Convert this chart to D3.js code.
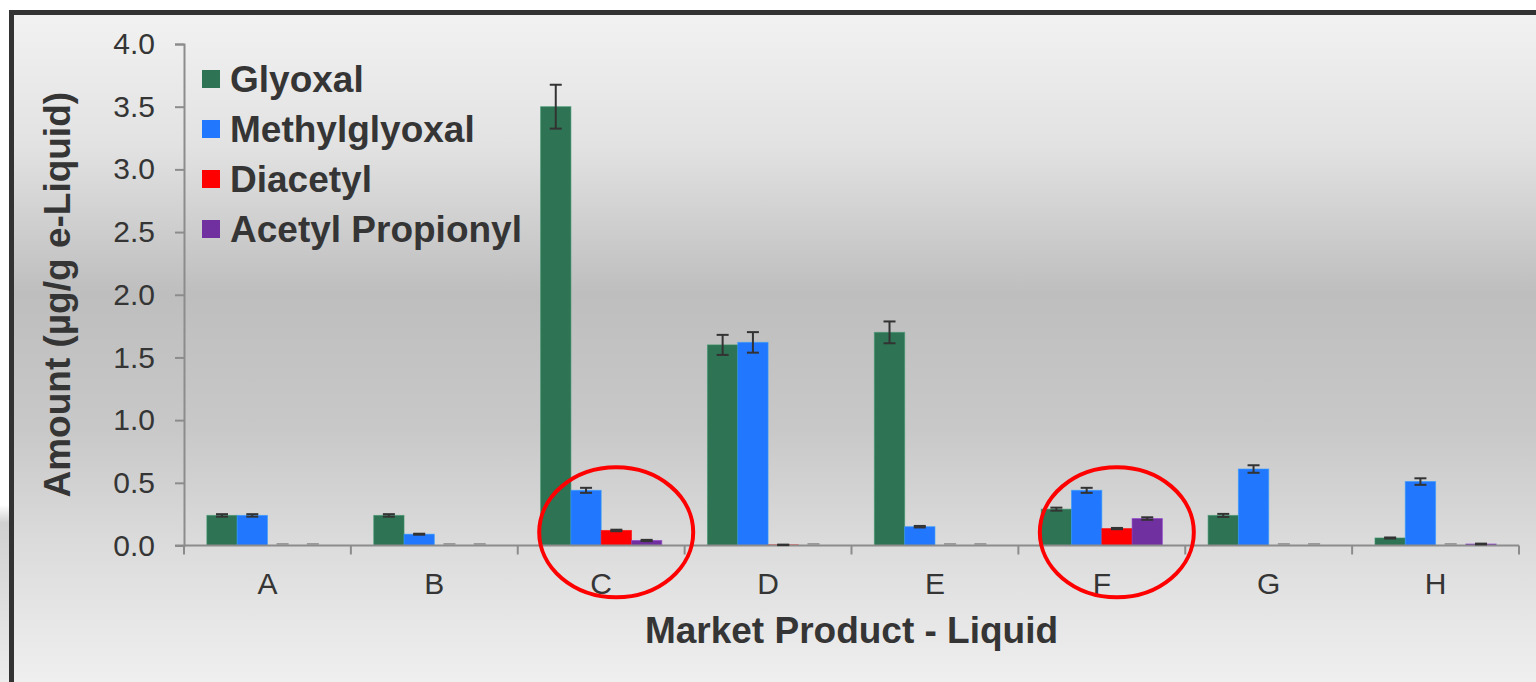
<!DOCTYPE html>
<html>
<head>
<meta charset="utf-8">
<script src="https://cdn.jsdelivr.net/npm/d3@7"></script>
<style>
  html, body { margin: 0; padding: 0; background: #ffffff; }
  svg { display: block; font-family: "Liberation Sans", Arial, Helvetica, sans-serif; }
</style>
</head>
<body>
<svg id="chart" width="1536" height="682"></svg>
<script>
// Market product liquids
const categories = ["A", "B", "C", "D", "E", "F", "G", "H"];

// Series names (legend order)
const seriesNames = ["Glyoxal", "Methylglyoxal", "Diacetyl", "Acetyl Propionyl"];

// Amounts, µg/g e-liquid
const glyoxal         = [0.24, 0.24, 3.50, 1.60, 1.70, 0.29, 0.24, 0.06];
const methylglyoxal   = [0.24, 0.09, 0.44, 1.62, 0.15, 0.44, 0.61, 0.51];
const diacetyl        = [0.00, 0.00, 0.12, 0.005, 0.00, 0.135, 0.00, 0.00];
const acetylPropionyl = [0.00, 0.00, 0.04, 0.00, 0.00, 0.215, 0.00, 0.012];

// Error bar half-widths
const glyoxalErr         = [0.010, 0.010, 0.175, 0.080, 0.087, 0.012, 0.012, 0.004];
const methylglyoxalErr   = [0.010, 0.004, 0.020, 0.082, 0.006, 0.020, 0.030, 0.026];
const diacetylErr        = [0.000, 0.000, 0.006, 0.002, 0.000, 0.005, 0.000, 0.000];
const acetylPropionylErr = [0.000, 0.000, 0.005, 0.000, 0.000, 0.010, 0.000, 0.003];

// Y axis tick values
const yTicks = [0, 0.5, 1.0, 1.5, 2.0, 2.5, 3.0, 3.5, 4.0];

// Highlighted products
const highlighted = ["C", "F"];

const seriesValues = [glyoxal, methylglyoxal, diacetyl, acetylPropionyl];
const seriesErrors = [glyoxalErr, methylglyoxalErr, diacetylErr, acetylPropionylErr];
const colors = ["#2e7353", "#2277ff", "#ff0000", "#7030a0"];

const svg = d3.select("#chart");
const W = 1536, H = 682;

// ---- background panel with soft vertical gradient ----
const defs = svg.append("defs");
const bg = defs.append("linearGradient").attr("id", "bgGrad")
  .attr("x1", 0).attr("y1", 0).attr("x2", 0).attr("y2", 1);
bg.append("stop").attr("offset", "0%").attr("stop-color", "#f2f2f2");
bg.append("stop").attr("offset", "20%").attr("stop-color", "#e2e2e2");
bg.append("stop").attr("offset", "42%").attr("stop-color", "#bebebe");
bg.append("stop").attr("offset", "62%").attr("stop-color", "#c8c8c8");
bg.append("stop").attr("offset", "80%").attr("stop-color", "#dcdcdc");
bg.append("stop").attr("offset", "100%").attr("stop-color", "#efefef");

const sh = defs.append("linearGradient").attr("id", "shadowGrad")
  .attr("x1", 0).attr("y1", 0).attr("x2", 0).attr("y2", 1);
sh.append("stop").attr("offset", "0%").attr("stop-color", "#ffffff");
sh.append("stop").attr("offset", "10%").attr("stop-color", "#d0d0d0");
sh.append("stop").attr("offset", "100%").attr("stop-color", "#ececec");

svg.append("rect").attr("x", 0).attr("y", 0).attr("width", W).attr("height", H).attr("fill", "#ffffff");
svg.append("rect").attr("x", 0).attr("y", 505).attr("width", 10).attr("height", H - 505).attr("fill", "url(#shadowGrad)");
svg.append("rect").attr("x", 12).attr("y", 12).attr("width", W - 12).attr("height", H - 12).attr("fill", "url(#bgGrad)");

// frame: top and left edges
svg.append("path")
  .attr("d", `M11.5,${H} L11.5,12.5 L${W},12.5`)
  .attr("fill", "none").attr("stroke", "#333333").attr("stroke-width", 5);

// ---- scales ----
const margin = { left: 184, right: 1519, top: 44, bottom: 545.5 };
const x0 = d3.scaleBand().domain(categories).range([margin.left, margin.right]).padding(0);
const x1 = d3.scaleBand().domain(seriesNames).range([0, x0.bandwidth()])
  .paddingInner(0).paddingOuter(0.755);
const y = d3.scaleLinear().domain([0, 4]).range([margin.bottom, margin.top]);

const textColor = "#353535";
const axisColor = "#8c8c8c";

// ---- y axis ----
const yAxis = svg.append("g").attr("transform", `translate(${margin.left},0)`)
  .call(d3.axisLeft(y).tickValues(yTicks).tickFormat(d3.format(".1f")).tickSize(9).tickPadding(20));
yAxis.select(".domain").attr("stroke", axisColor).attr("stroke-width", 2);
yAxis.selectAll(".tick line").attr("stroke", axisColor).attr("stroke-width", 2);
yAxis.selectAll(".tick text").attr("fill", textColor).attr("font-size", 30)
  .attr("font-family", "Liberation Sans, Arial, sans-serif");

// ---- bars ----
const rows = [];
categories.forEach((c, i) => {
  seriesNames.forEach((s, j) => {
    rows.push({ cat: c, series: s, value: seriesValues[j][i], err: seriesErrors[j][i], color: colors[j] });
  });
});

const bars = svg.append("g");
bars.selectAll("rect").data(rows.filter(d => d.value > 0)).join("rect")
  .attr("x", d => x0(d.cat) + x1(d.series))
  .attr("y", d => y(d.value))
  .attr("width", x1.bandwidth())
  .attr("height", d => y(0) - y(d.value))
  .attr("fill", d => d.color)
  .attr("stroke", d => d3.color(d.color).brighter(0.7))
  .attr("stroke-opacity", 0.6)
  .attr("stroke-width", 1);

// ---- x axis ----
const xAxis = svg.append("g").attr("transform", `translate(0,${margin.bottom})`);
xAxis.append("line")
  .attr("x1", margin.left - 9).attr("x2", margin.right)
  .attr("stroke", axisColor).attr("stroke-width", 2);
const boundaries = categories.map(c => x0(c)).concat([x0(categories[categories.length - 1]) + x0.bandwidth()]);
xAxis.selectAll("line.tick").data(boundaries).join("line").attr("class", "tick")
  .attr("x1", d => d).attr("x2", d => d).attr("y1", 0).attr("y2", 9)
  .attr("stroke", axisColor).attr("stroke-width", 2);
xAxis.selectAll("text").data(categories).join("text")
  .attr("x", d => x0(d) + x0.bandwidth() / 2)
  .attr("y", 48)
  .attr("text-anchor", "middle")
  .attr("fill", textColor).attr("font-size", 30)
  .text(d => d);

// ---- error bars ----
const capHalf = 6;
const errG = svg.append("g");
rows.forEach(d => {
  const cx = x0(d.cat) + x1(d.series) + x1.bandwidth() / 2;
  if (d.value === 0) {
    errG.append("line")
      .attr("x1", cx - capHalf).attr("x2", cx + capHalf)
      .attr("y1", y(0) - 1.5).attr("y2", y(0) - 1.5)
      .attr("stroke", "#9a9a9a").attr("stroke-width", 2);
    return;
  }
  const yt = y(d.value + d.err), yb = y(d.value - d.err);
  const g = errG.append("g").attr("stroke", "#333333").attr("stroke-width", 2);
  g.append("line").attr("x1", cx).attr("x2", cx).attr("y1", yt).attr("y2", yb);
  g.append("line").attr("x1", cx - capHalf).attr("x2", cx + capHalf).attr("y1", yt).attr("y2", yt);
  g.append("line").attr("x1", cx - capHalf).attr("x2", cx + capHalf).attr("y1", yb).attr("y2", yb);
});

// ---- highlight ellipses ----
svg.append("g").selectAll("ellipse").data(highlighted).join("ellipse")
  .attr("cx", d => x0(d) + x0.bandwidth() * 0.59)
  .attr("cy", y(0.105))
  .attr("rx", 77)
  .attr("ry", 65)
  .attr("fill", "none")
  .attr("stroke", "#ff0000")
  .attr("stroke-width", 4);

// ---- axis titles ----
svg.append("text")
  .attr("x", (margin.left + margin.right) / 2)
  .attr("y", 643)
  .attr("text-anchor", "middle")
  .attr("font-size", 37).attr("font-weight", "bold").attr("fill", textColor)
  .text("Market Product - Liquid");

svg.append("text")
  .attr("transform", `translate(70,${(margin.top + margin.bottom) / 2}) rotate(-90)`)
  .attr("text-anchor", "middle")
  .attr("font-size", 37).attr("font-weight", "bold").attr("fill", textColor)
  .text("Amount (µg/g e-Liquid)");

// ---- legend ----
const legend = svg.append("g").attr("transform", "translate(202,70)");
const item = legend.selectAll("g").data(seriesNames).join("g")
  .attr("transform", (d, i) => `translate(0,${i * 50})`);
item.append("rect").attr("width", 18).attr("height", 18)
  .attr("fill", (d, i) => colors[i]);
item.append("text").attr("x", 28).attr("y", 22)
  .attr("font-size", 37).attr("font-weight", "bold").attr("fill", textColor)
  .text(d => d);
</script>
</body>
</html>
